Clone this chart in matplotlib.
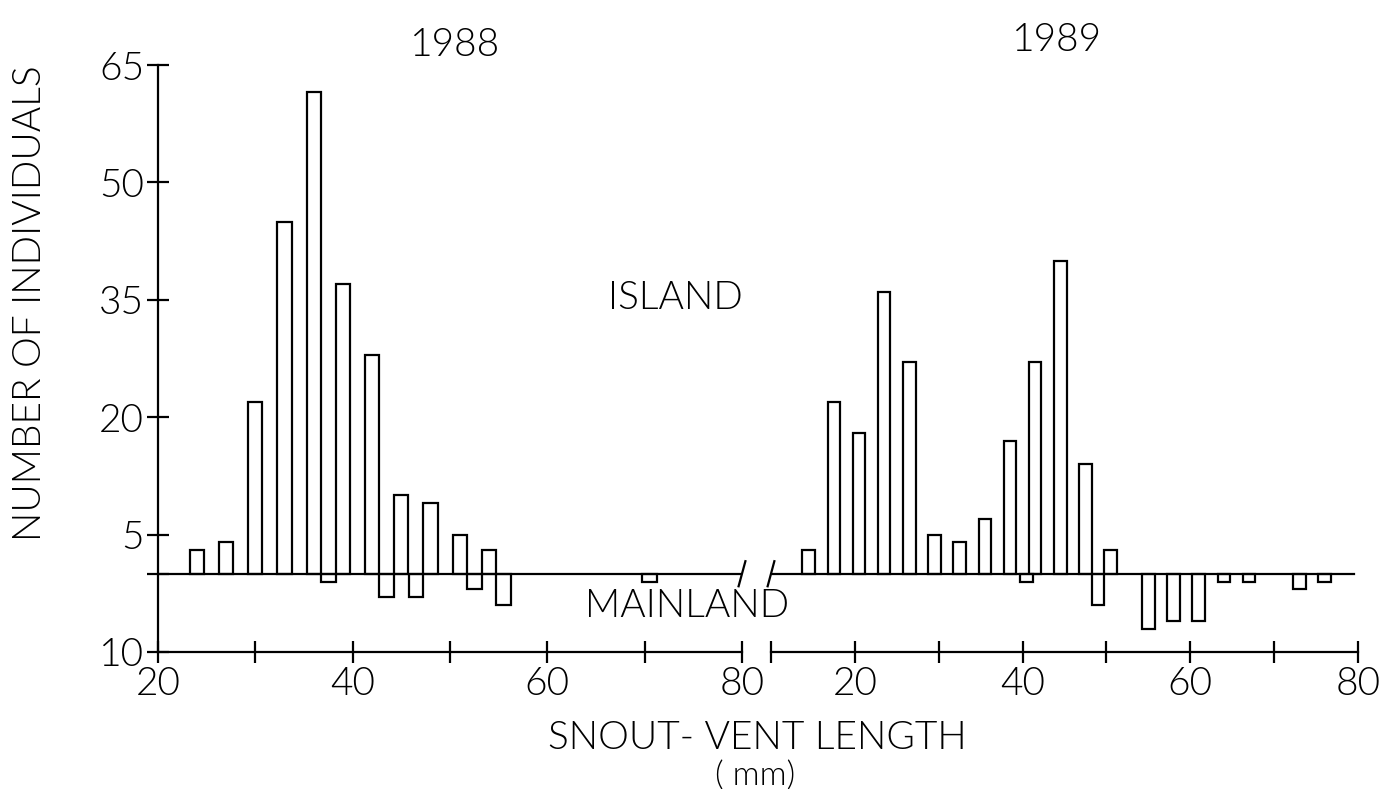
import matplotlib
matplotlib.use("Agg")
import matplotlib.pyplot as plt

plt.rcParams['font.family'] = ['Lato', 'DejaVu Sans']
plt.rcParams['font.weight'] = 300

# 1988: island (up) and mainland (down) counts per snout-vent length bin (mm)
island_88_x = [24, 27, 30, 33, 36, 39, 42, 45, 48, 51, 54]
island_88_n = [3, 4, 22, 45, 61.5, 37, 28, 10, 9, 5, 3]
main_88_x = [37.5, 43.5, 46.5, 52.5, 55.5, 70.5]
main_88_n = [1, 3, 3, 2, 4, 1]

# 1989
island_89_x = [14.5, 17.5, 20.5, 23.5, 26.5, 29.5, 32.5, 35.5, 38.5, 41.5, 44.5, 47.5, 50.5]
island_89_n = [3, 22, 18, 36, 27, 5, 4, 7, 17, 27, 40, 14, 3]
main_89_x = [40.5, 49, 55, 58, 61, 64, 67, 73, 76]
main_89_n = [1, 4, 7, 6, 6, 1, 1, 2, 1]

y_ticks = [-10, 0, 5, 20, 35, 50, 65]
y_labels = ['10', '', '5', '20', '35', '50', '65']
x_ticks_88 = [20, 30, 40, 50, 60, 70, 80]
x_ticks_89 = [10, 20, 30, 40, 50, 60, 70, 80]

lw = 1.6
fs = 28

fig = plt.figure(figsize=(14, 7.89), dpi=100)
bot = (789 - 652) / 789
hgt = (652 - 65) / 789
ax1 = fig.add_axes([158 / 1400, bot, 584 / 1400, hgt])
ax2 = fig.add_axes([771 / 1400, bot, 587 / 1400, hgt])

for ax in (ax1, ax2):
    ax.set_ylim(-10, 65)
    ax.spines['top'].set_visible(False)
    ax.spines['right'].set_visible(False)
    ax.spines['bottom'].set_linewidth(lw)
    ax.spines['left'].set_linewidth(lw)
    ax.tick_params(direction='inout', length=16, width=lw, labelsize=fs, pad=2)
    ax.patch.set_alpha(0)

ax1.set_xlim(20, 80)
ax2.set_xlim(10, 80)

# island bars
ax1.bar(island_88_x, island_88_n, width=1.45, bottom=0, facecolor='white',
        edgecolor='black', linewidth=lw, zorder=3)
ax2.bar(island_89_x, island_89_n, width=1.5, bottom=0, facecolor='white',
        edgecolor='black', linewidth=lw, zorder=3)
# mainland bars hang below the line
ax1.bar(main_88_x, [-v for v in main_88_n], width=1.5, bottom=0, facecolor='white',
        edgecolor='black', linewidth=lw, zorder=3)
ax2.bar(main_89_x, [-v for v in main_89_n], width=1.5, bottom=0, facecolor='white',
        edgecolor='black', linewidth=lw, zorder=3)

# zero line with break marks
ax1.plot([20, 80], [0, 0], color='black', lw=lw, zorder=4)
ax2.plot([10, 79.5], [0, 0], color='black', lw=lw, zorder=4)
ax1.plot([79.65, 80.35], [-1.6, 1.6], color='black', lw=lw, clip_on=False, zorder=4)
ax2.plot([9.6, 10.4], [-1.6, 1.6], color='black', lw=lw, clip_on=False, zorder=4)

ax1.set_yticks(y_ticks)
ax1.set_yticklabels(y_labels)
ax1.set_xticks(x_ticks_88)
ax1.set_xticklabels(['20', '', '40', '', '60', '', '80'])

ax2.spines['left'].set_visible(False)
ax2.set_yticks([])
ax2.set_xticks(x_ticks_89)
ax2.set_xticklabels(['', '20', '', '40', '', '60', '', '80'])

fig.text(455 / 1400, 1 - 45 / 789, '1988', fontsize=fs, ha='center', va='center')
fig.text(1057 / 1400, 1 - 40 / 789, '1989', fontsize=fs, ha='center', va='center')
fig.text(675 / 1400, 1 - 298 / 789, 'ISLAND', fontsize=fs, ha='center', va='center')
fig.text(687 / 1400, 1 - 606 / 789, 'MAINLAND', fontsize=fs, ha='center', va='center')
fig.text(30 / 1400, 1 - 303 / 789, 'NUMBER OF INDIVIDUALS', fontsize=fs,
         rotation=90, ha='center', va='center')
fig.text(757 / 1400, 1 - 738 / 789, 'SNOUT- VENT LENGTH', fontsize=fs,
         ha='center', va='center')
fig.text(755 / 1400, 1 - 776 / 789, '( mm)', fontsize=fs - 4, ha='center', va='center')

fig.savefig('out.png', dpi=100)
